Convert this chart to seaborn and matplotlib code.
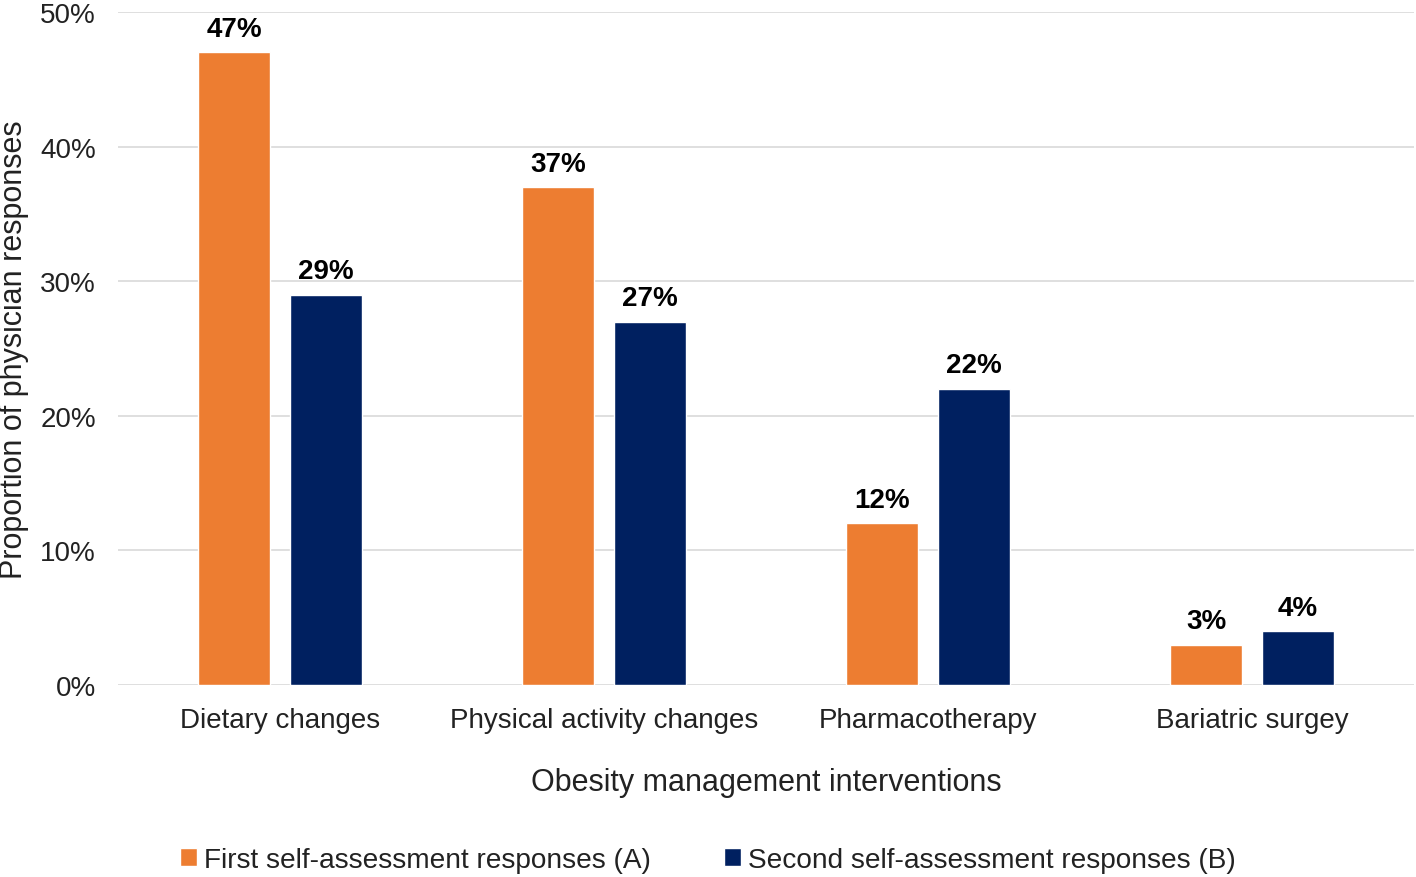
import matplotlib
matplotlib.use("Agg")
import matplotlib.pyplot as plt
import seaborn as sns
import pandas as pd
from matplotlib.patches import Patch

categories = ["Dietary changes", "Physical activity changes", "Pharmacotherapy", "Bariatric surgey"]
series_names = ["First self-assessment responses (A)", "Second self-assessment responses (B)"]
first_vals = [47, 37, 12, 3]
second_vals = [29, 27, 22, 4]
y_ticks = [0, 10, 20, 30, 40, 50]
colors = ["#ED7D31", "#002060"]

df = pd.DataFrame({
    "Intervention": categories * 2,
    "Series": [series_names[0]] * 4 + [series_names[1]] * 4,
    "Value": first_vals + second_vals,
})

sns.set_theme(style="white")
plt.rcParams["font.family"] = ["Liberation Sans", "DejaVu Sans"]

fig = plt.figure(figsize=(14.16, 8.78), dpi=100)
ax = fig.add_axes([118/1416, 192/878, (1414-118)/1416, (686-13)/878])

sns.barplot(data=df, x="Intervention", y="Value", hue="Series", order=categories,
            hue_order=series_names, palette=colors, width=0.568, gap=0.208,
            ax=ax, legend=False, saturation=1)

for c in ax.containers:
    ax.bar_label(c, labels=[f"{v:.0f}%" for v in c.datavalues], padding=7.5,
                 fontsize=20, fontweight="bold", color="black")

ax.set_ylim(0, 50)
ax.set_xlim(-0.5, 3.5)
ax.set_yticks(y_ticks)
ax.set_yticklabels([f"{t}%" for t in y_ticks], fontsize=20, color="#222222")
ax.tick_params(axis="x", labelsize=20, colors="#222222", pad=16, length=0)
ax.tick_params(axis="y", length=0, pad=16)
ax.yaxis.grid(True, color="#D9D9D9", linewidth=1.2)
ax.set_axisbelow(True)
for s in ax.spines.values():
    s.set_visible(False)

ax.set_xlabel("Obesity management interventions", fontsize=22, color="#222222", labelpad=24)
ax.set_ylabel("Proportion of physician responses", fontsize=22, color="#222222")
ax.yaxis.set_label_coords((14 - 118) / 1296, (686 - 350) / 673)
ax.yaxis.label.set_va("center")

handles = [Patch(facecolor=colors[0]), Patch(facecolor=colors[1])]
fig.legend(handles, series_names, loc="center", bbox_to_anchor=(0.5, 1 - 861/878),
           ncol=2, frameon=False, fontsize=20.2, handlelength=0.6, handleheight=0.6,
           handletextpad=0.25, columnspacing=2.6, labelcolor="#222222")

fig.savefig("out.png", dpi=100)
